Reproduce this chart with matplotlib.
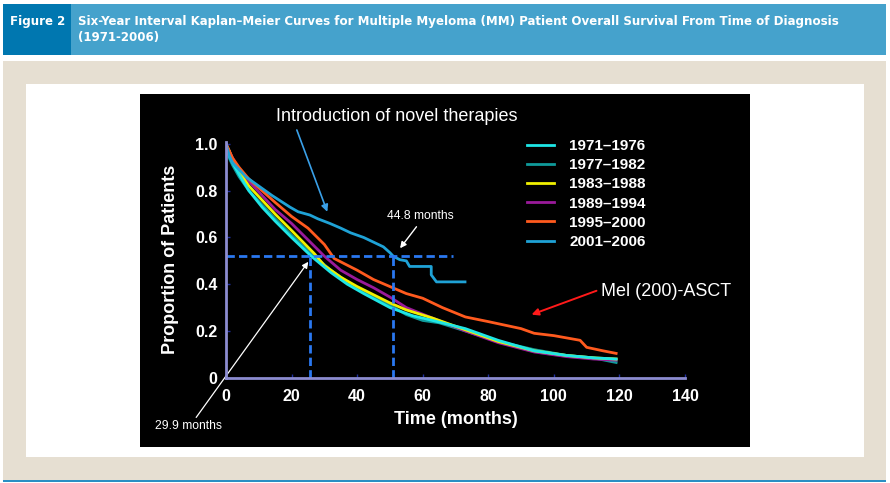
import numpy as np
import matplotlib
matplotlib.use("Agg")
import matplotlib.pyplot as plt
from matplotlib.patches import Rectangle

# survival curves (months, proportion alive)
t_7176 = [0, 1, 2, 4, 7, 11, 15, 20, 26, 32, 37, 42, 50, 57, 63, 73, 83, 94, 104, 112, 119]
p_7176 = [1.0, 0.95, 0.92, 0.87, 0.80, 0.73, 0.67, 0.60, 0.52, 0.45, 0.40, 0.36, 0.30, 0.265,
          0.245, 0.21, 0.16, 0.115, 0.095, 0.085, 0.08]

t_7782 = [0, 1, 2, 4, 7, 11, 15, 20, 26, 32, 37, 42, 50, 55, 60, 65, 73, 83, 94, 104, 112, 119]
p_7782 = [1.0, 0.94, 0.91, 0.86, 0.80, 0.74, 0.68, 0.61, 0.53, 0.46, 0.41, 0.37, 0.31, 0.27,
          0.245, 0.235, 0.20, 0.155, 0.12, 0.095, 0.085, 0.065]

t_8388 = [0, 1, 2, 4, 7, 11, 15, 20, 27, 30, 35, 40, 45, 50, 55, 63, 73, 83, 94, 104, 112, 119]
p_8388 = [1.0, 0.97, 0.93, 0.88, 0.82, 0.76, 0.70, 0.63, 0.53, 0.48, 0.43, 0.39, 0.355, 0.32,
          0.29, 0.255, 0.205, 0.155, 0.115, 0.095, 0.085, 0.08]

t_8994 = [0, 1, 2, 4, 7, 11, 15, 20, 25, 30, 35, 40, 45, 50, 55, 63, 73, 83, 94, 104, 112, 119]
p_8994 = [1.0, 0.97, 0.94, 0.89, 0.84, 0.78, 0.72, 0.66, 0.59, 0.52, 0.46, 0.42, 0.385, 0.345,
          0.30, 0.255, 0.20, 0.15, 0.11, 0.09, 0.08, 0.075]

t_9500 = [0, 1, 2, 4, 7, 11, 15, 20, 25, 30, 33, 40, 45, 50, 55, 60, 66, 73, 80, 85, 90, 94,
          100, 104, 108, 110, 115, 119]
p_9500 = [1.0, 0.97, 0.94, 0.90, 0.85, 0.80, 0.75, 0.69, 0.64, 0.57, 0.51, 0.46, 0.42, 0.39,
          0.36, 0.34, 0.30, 0.26, 0.24, 0.225, 0.21, 0.19, 0.18, 0.17, 0.16, 0.13, 0.115, 0.104]

t_0106 = [0, 1, 2, 4, 6, 10, 14, 19.5, 22, 25.6, 28, 31.7, 35, 38, 42, 45, 48, 50, 51, 53, 55,
          56, 59, 62.6, 62.6, 64.2, 72.9]
p_0106 = [1.0, 0.95, 0.92, 0.89, 0.86, 0.82, 0.78, 0.73, 0.71, 0.696, 0.68, 0.66, 0.64, 0.62,
          0.60, 0.58, 0.56, 0.535, 0.52, 0.505, 0.50, 0.476, 0.476, 0.476, 0.44, 0.41, 0.41]

labels = ["1971\u20131976", "1977\u20131982", "1983\u20131988",
          "1989\u20131994", "1995\u20132000", "2001\u20132006"]
colors = ["#1ee6e6", "#0f9a9a", "#f0f000", "#9a1a9a", "#ff5a1e", "#1fa2d6"]

median_level = 0.52
median_t = [25.6, 51]

W, H = 890, 483
fig = plt.figure(figsize=(W / 100, H / 100), dpi=100)
fig.patch.set_facecolor("white")


def px_rect(x0, y0, x1, y1, color):
    fig.patches.append(Rectangle((x0 / W, 1 - y1 / H), (x1 - x0) / W, (y1 - y0) / H,
                                 transform=fig.transFigure, color=color, zorder=-5, lw=0))


# page decoration
px_rect(3, 4, 71, 55, "#0077b0")
px_rect(71, 4, 886, 55, "#45a2cc")
px_rect(3, 61, 886, 480, "#e6dfd2")
px_rect(26, 84, 864, 457, "white")
px_rect(140, 94, 750, 447, "black")
px_rect(3, 480, 886, 482, "#2a8fc4")

cond = dict(family="DejaVu Sans", fontstretch="condensed", fontweight="bold", color="white",
            va="center")
head = fig.text(10 / W, 1 - 21 / H, "Figure 2", fontsize=10.5, **cond)
title = fig.text(78 / W, 1 - 21 / H,
                 "Six-Year Interval Kaplan\u2013Meier Curves for Multiple Myeloma (MM) Patient "
                 "Overall Survival From Time of Diagnosis", fontsize=10.5, **cond)
sub = fig.text(78 / W, 1 - 38 / H, "(1971-2006)", fontsize=10.5, **cond)

# fit the long title line into the same width as in the print (x 78..838)
r = fig.canvas.get_renderer()
wpx = title.get_window_extent(r).width
if wpx > 760:
    fs = 10.5 * 760 / wpx
    for t in (head, title, sub):
        t.set_fontsize(fs)

plt.rcParams["font.family"] = ["Liberation Sans", "DejaVu Sans"]

# axes: t=0 at x=226, t=140 at x=685; p=0 at y=377.7, p=1 at y=144
ax = fig.add_axes([226 / W, (H - 377.7) / H, 459 / W, 233.7 * 1.01 / H])
ax.set_zorder(2)
ax.set_facecolor("black")
ax.set_xlim(0, 140)
ax.set_ylim(0, 1.01)

series = [(t_7176, p_7176), (t_7782, p_7782), (t_8388, p_8388),
          (t_8994, p_8994), (t_9500, p_9500), (t_0106, p_0106)]
order = [1, 3, 2, 0, 4, 5]
handles = [None] * 6
for i in order:
    t, p = series[i]
    h, = ax.plot(t, p, color=colors[i], lw=2, label=labels[i], zorder=3)
    handles[i] = h

# median guide lines
dash = dict(color="#2a78f0", lw=2, ls=(0, (3, 1.5)), zorder=4)
ax.plot([0, 69.3], [median_level, median_level], **dash)
for m in median_t:
    ax.plot([m, m], [0, median_level], **dash)

for s in ["top", "right"]:
    ax.spines[s].set_visible(False)
for s in ["left", "bottom"]:
    ax.spines[s].set_color("#8c8cd0")
    ax.spines[s].set_linewidth(2)
    ax.spines[s].set_zorder(5)

ax.set_xticks(np.arange(0, 141, 20))
ax.set_yticks([0, 0.2, 0.4, 0.6, 0.8, 1.0])
ax.set_yticklabels(["0", "0.2", "0.4", "0.6", "0.8", "1.0"])
ax.tick_params(direction="in", length=3, width=1, color="#2030a0", labelcolor="white",
               labelsize=11.5)
ax.tick_params(axis="x", pad=8)
ax.tick_params(axis="y", pad=6)
for lab in ax.get_xticklabels() + ax.get_yticklabels():
    lab.set_fontweight("bold")

ax.set_xlabel("Time (months)", color="white", fontsize=13, fontweight="bold", labelpad=5)
ax.set_ylabel("Proportion of Patients", color="white", fontsize=13, fontweight="bold",
              labelpad=12)

leg = ax.legend(handles=handles, loc="upper left", bbox_to_anchor=(527 / W, 1 - 139 / H),
                bbox_transform=fig.transFigure, frameon=False, borderpad=0, borderaxespad=0,
                handlelength=1.75, handletextpad=1.0, labelspacing=0.34,
                prop=dict(size=11, weight="bold"), labelcolor="white")

# annotations
arrow_blue = dict(arrowstyle="-|>", color="#3aa0e8", lw=1.2, mutation_scale=10,
                  shrinkA=0, shrinkB=0)
ax.text(15.3, 1.08, "Introduction of novel therapies", color="white", fontsize=13,
        va="bottom", clip_on=False)
ax.annotate("", xy=(30.9, 0.71), xytext=(21.6, 1.06), annotation_clip=False,
            arrowprops=arrow_blue)

ax.text(49.2, 0.665, "44.8 months", color="white", fontsize=8.7, va="bottom")
ax.annotate("", xy=(53.1, 0.554), xytext=(58.1, 0.646),
            arrowprops=dict(arrowstyle="-|>", color="white", lw=1, mutation_scale=9,
                            shrinkA=0, shrinkB=0))

ax.text(-21.8, -0.205, "29.9 months", color="white", fontsize=8.7, va="center",
        clip_on=False)
ax.annotate("", xy=(25.1, 0.496), xytext=(-9.1, -0.17), annotation_clip=False,
            arrowprops=dict(arrowstyle="-|>", color="white", lw=0.9, mutation_scale=9,
                            shrinkA=0, shrinkB=0))

ax.text(114.3, 0.37, "Mel (200)-ASCT", color="white", fontsize=13, va="center",
        clip_on=False)
ax.annotate("", xy=(93.2, 0.27), xytext=(113, 0.372), annotation_clip=False,
            arrowprops=dict(arrowstyle="-|>", color="#ff1a1a", lw=1.4, mutation_scale=10,
                            shrinkA=0, shrinkB=0))

fig.savefig("out.png", dpi=100, facecolor=fig.get_facecolor())
